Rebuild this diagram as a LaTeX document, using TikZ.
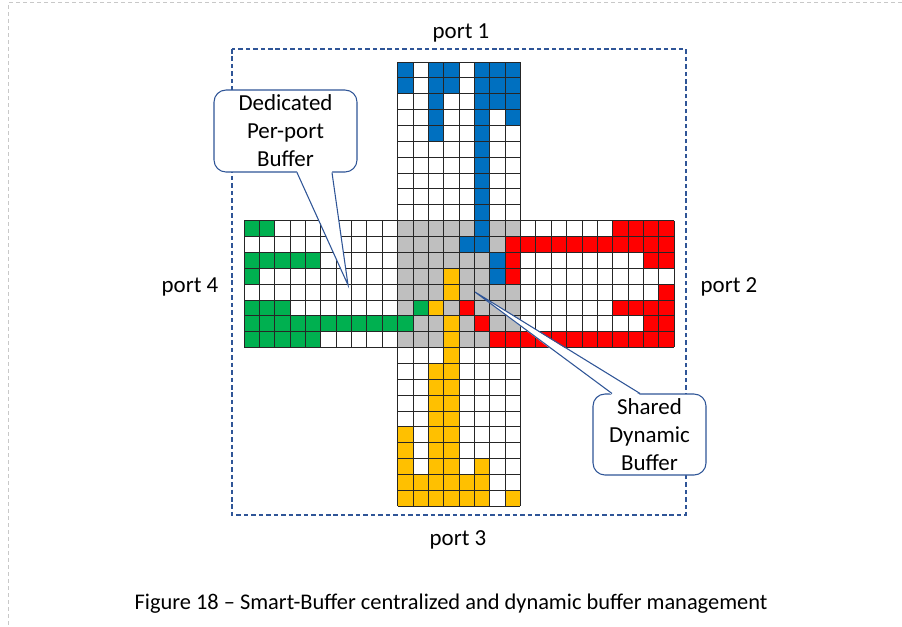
\documentclass[tikz,border=0pt]{standalone}
\usepackage{fontspec}
\setmainfont{Carlito}
\usetikzlibrary{calc}

\definecolor{pblue}{HTML}{0070C0}
\definecolor{pred}{HTML}{FF0000}
\definecolor{pgreen}{HTML}{00B050}
\definecolor{pyellow}{HTML}{FFC000}
\definecolor{pgray}{HTML}{BFBFBF}
\definecolor{frameblue}{HTML}{2F5597}
\definecolor{pageline}{HTML}{C8C8C8}

\tikzset{
  gridline/.style={draw=black!85, line width=0.6pt},
  callbox/.style={draw=frameblue, line width=0.8pt, fill=white, rounded corners=9pt,
    align=center, inner sep=0pt, font=\fontsize{17.2}{21}\selectfont},
  portlabel/.style={font=\fontsize{17.2}{21}\selectfont},
  pointer/.style={draw=frameblue, line width=0.8pt},
}

\begin{document}
\begin{tikzpicture}[x=0.75pt,y=-0.75pt]
\useasboundingbox (0,0) rectangle (902,626);

% page frame
\draw[pageline, line width=0.75pt, dash pattern=on 3pt off 2.25pt] (902,2.5) -- (8.5,2.5) -- (8.5,626);

% buffer cells
\begin{scope}[shift={(244,62)}, x=11.52pt, y=-11.895pt]
\fill[pgray] (10,10) rectangle (18,18);

\foreach \a/\b/\c/\d in {10/0/11/2, 12/0/14/2, 12/2/13/5, 15/0/16/12, 16/0/18/3,
    17/3/18/4, 14/11/15/12, 16/12/17/14} {
\fill[pblue] (\a,\b) rectangle (\c,\d);
}
\foreach \a/\b/\c/\d in {24/10/28/11, 17/11/28/12, 17/12/18/14, 26/12/28/13, 27/14/28/15,
    14/15/15/16, 24/15/28/16, 15/16/16/17, 26/16/28/17, 16/17/28/18} {
\fill[pred] (\a,\b) rectangle (\c,\d);
}
\foreach \a/\b/\c/\d in {0/10/2/11, 0/12/5/13, 0/13/1/14, 0/15/3/16, 11/15/12/16,
    0/16/11/17, 0/17/5/18} {
\fill[pgreen] (\a,\b) rectangle (\c,\d);
}
\foreach \a/\b/\c/\d in {13/13/14/15, 12/15/13/16, 13/16/14/19, 12/19/14/28, 10/23/11/28,
    11/26/12/28, 14/26/15/28, 15/25/16/28, 17/27/18/28} {
\fill[pyellow] (\a,\b) rectangle (\c,\d);
}

% grid of the cross
\foreach \c in {10,...,18} {
\draw[gridline] (\c,0) -- (\c,28);
}
\foreach \r in {0,...,28} {
\draw[gridline] (10,\r) -- (18,\r);
}
\foreach \r in {10,...,18} {
\draw[gridline] (0,\r) -- (28,\r);
}
\foreach \c in {0,...,28} {
\draw[gridline] (\c,10) -- (\c,18);
}
\end{scope}

% switch border
\draw[frameblue, line width=0.9pt, dash pattern=on 3.4pt off 2.2pt] (232,49) rectangle (686,515);

\node[portlabel] (port1) at (461,33) {port 1};
\node[portlabel] (port2) at (729,287) {port 2};
\node[portlabel] (port3) at (458,540) {port 3};
\node[portlabel] (port4) at (190,287) {port 4};

% callouts
\node[callbox, minimum width=107.25pt, minimum height=61.5pt] (ded) at (285.5,131) {Dedicated\\Per-port\\Buffer};
\coordinate (dedtip) at (348,285);
\fill[white] ($(ded.south)+(11.5,-1.5)$) -- (dedtip) -- ($(ded.south)+(46.5,-1.5)$) -- cycle;
\draw[pointer] ($(ded.south)+(11.5,0)$) -- (dedtip) -- ($(ded.south)+(46.5,0)$);

\node[callbox, minimum width=84.75pt, minimum height=60.75pt] (shr) at (649.5,434.5) {Shared\\Dynamic\\Buffer};
\coordinate (shrtip) at (475,292);
\fill[white] ($(shr.north)+(-37.5,1.5)$) -- (shrtip) -- ($(shr.north)+(-9.5,1.5)$) -- cycle;
\draw[pointer] ($(shr.north)+(-37.5,0)$) -- (shrtip) -- ($(shr.north)+(-9.5,0)$);

\node[font=\fontsize{16.8}{21}\selectfont] (caption) at (451,604) {Figure 18 -- Smart-Buffer centralized and dynamic buffer management};
\end{tikzpicture}
\end{document}
